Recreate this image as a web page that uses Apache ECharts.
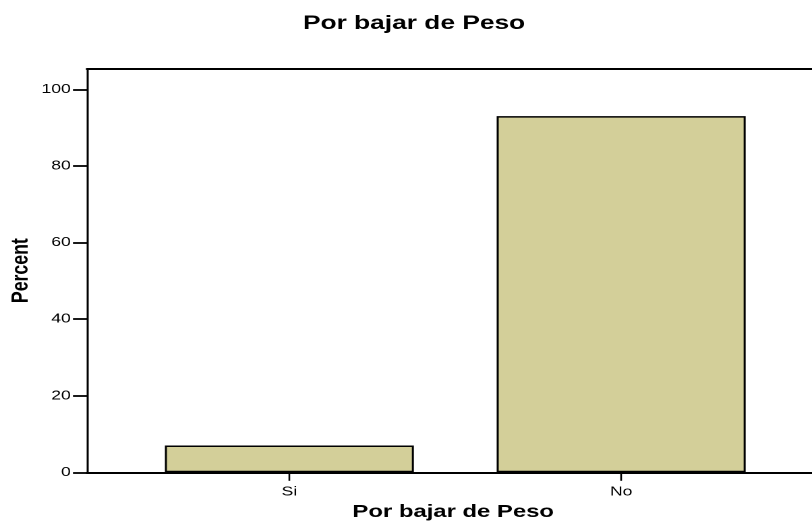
<!DOCTYPE html>
<html>
<head>
<meta charset="utf-8">
<script src="https://cdn.jsdelivr.net/npm/echarts@6/dist/echarts.min.js"></script>
<style>
  html, body { margin: 0; padding: 0; background: #fff; overflow: hidden; }
  #wrap { width: 812px; height: 523px; overflow: hidden; }
  #chart { width: 602px; height: 523px; transform: scaleX(1.3488); transform-origin: 0 0; }
</style>
</head>
<body>
<div id="wrap"><div id="chart"></div></div>
<script>
// Data
const categories = ['Si', 'No'];
const percentValues = [7.0, 93.0];
const yTickValues = [0, 20, 40, 60, 80, 100];
const chartTitle = 'Por bajar de Peso';
const xAxisTitle = 'Por bajar de Peso';
const yAxisTitle = 'Percent';

const barData = categories.map((c, i) => [i, percentValues[i]]);
const FONT = '"Liberation Sans", Arial, Helvetica, sans-serif';

const chart = echarts.init(document.getElementById('chart'), null, { devicePixelRatio: 2 });
chart.setOption({
  backgroundColor: '#ffffff',
  animation: false,
  title: {
    text: chartTitle,
    left: 224.6,
    top: 13.5,
    padding: 0,
    textStyle: { fontFamily: FONT, fontWeight: 'bold', fontSize: 19.5, color: '#000' }
  },
  grid: {
    left: 64.5,
    right: -13.5,
    top: 69,
    bottom: 50.7,
    containLabel: false,
    outerBoundsMode: 'none'
  },
  xAxis: [{
    type: 'value',
    min: -0.61,
    max: 1.63,
    position: 'bottom',
    splitLine: { show: false },
    axisLine: { show: true, onZero: false, lineStyle: { color: '#000', width: 2 } },
    axisTick: { show: true, customValues: [0, 1], length: 8.5, lineStyle: { color: '#000', width: 1.3 } },
    axisLabel: {
      show: true,
      customValues: [0, 1],
      margin: 13,
      fontFamily: FONT, fontSize: 13, color: '#000',
      formatter: v => categories[Math.round(v)] || ''
    },
    name: xAxisTitle,
    nameLocation: 'middle',
    nameGap: 31,
    nameMoveOverlap: false,
    nameTextStyle: { fontFamily: FONT, fontWeight: 'bold', fontSize: 17.7, color: '#000', padding: [0, 8, 0, 0] }
  }, {
    type: 'value',
    min: -0.61,
    max: 1.63,
    position: 'top',
    splitLine: { show: false },
    axisLine: { show: true, onZero: false, lineStyle: { color: '#000', width: 2 } },
    axisTick: { show: false },
    axisLabel: { show: false }
  }],
  yAxis: {
    type: 'value',
    min: 0,
    max: 105.3,
    interval: 20,
    splitLine: { show: false },
    axisLine: { show: true, onZero: false, lineStyle: { color: '#000', width: 1.5 } },
    axisTick: { show: true, length: 10.4, customValues: yTickValues, lineStyle: { color: '#000', width: 1.8 } },
    axisLabel: {
      margin: 12,
      customValues: yTickValues,
      fontFamily: FONT, fontSize: 13, color: '#000'
    },
    name: yAxisTitle,
    nameLocation: 'middle',
    nameGap: 40,
    nameMoveOverlap: false,
    nameTextStyle: { fontFamily: FONT, fontWeight: 'bold', fontSize: 17.7, color: '#000' }
  },
  series: [{
    type: 'bar',
    xAxisIndex: 0,
    data: barData,
    barWidth: 184.6,
    itemStyle: { color: '#d3cf99', borderColor: '#000', borderWidth: 1.5 },
    emphasis: { disabled: true }
  }]
});
</script>
</body>
</html>
